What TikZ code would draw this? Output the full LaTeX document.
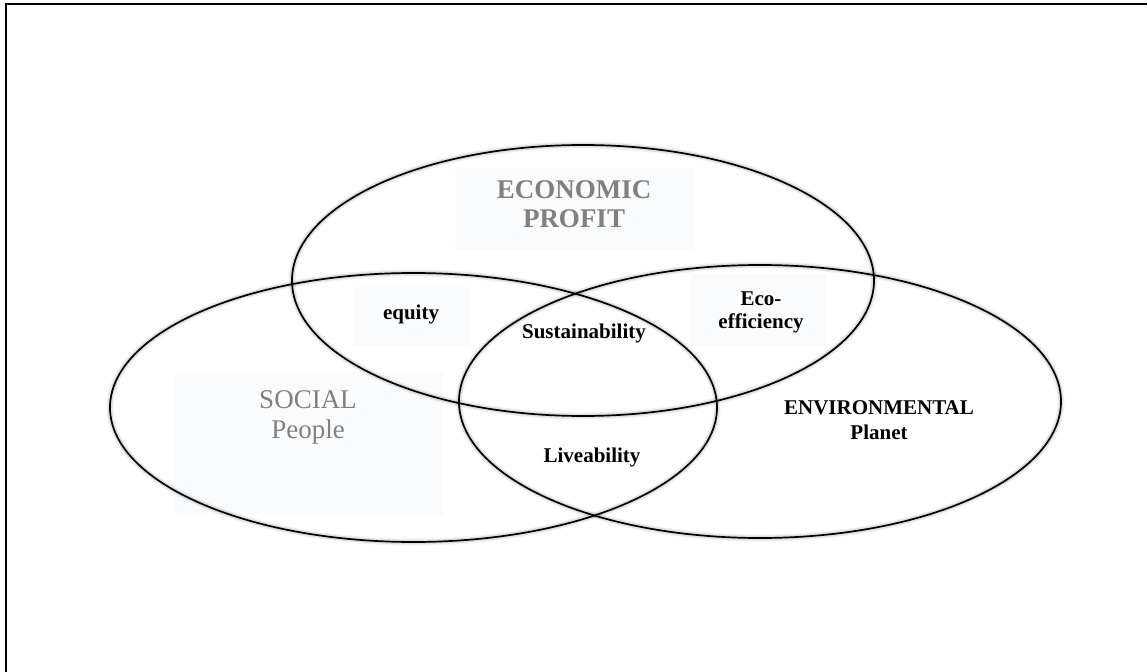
\documentclass[tikz,border=0pt]{standalone}
\usepackage{fontspec}
\setmainfont{Liberation Serif}
\definecolor{lblgray}{HTML}{808080}
\definecolor{boxfill}{HTML}{F8F9FB}
\begin{document}
\begin{tikzpicture}[x=1bp,y=-1bp,
  ring/.style={draw=black, line width=1.7bp},
  glowa/.style={draw=black, line width=7bp, opacity=0.05},
  glowb/.style={draw=black, line width=4.5bp, opacity=0.08},
  faintbox/.style={fill=boxfill, draw=none, opacity=0.6},
  biglbl/.style={text=lblgray, inner sep=0pt, align=center, font=\fontsize{27bp}{29.5bp}\selectfont},
  smalllbl/.style={text=black, inner sep=0pt, align=center, font=\bfseries\fontsize{21bp}{23.5bp}\selectfont}]
\useasboundingbox (0,0) rectangle (1147,672);
\fill[white] (0,0) rectangle (1147,672);
% frame (top and left edges only)
\draw[line width=2bp] (6,672) -- (6,4.5) -- (1147,4.5);
% faint text boxes
\fill[faintbox] (456,168) rectangle (693,250);
\fill[faintbox] (175,373) rectangle (443,515);
\fill[faintbox] (353,287) rectangle (469,346);
\fill[faintbox] (691,274) rectangle (827,346);
% ellipse glow
\foreach \c/\rx/\ry in {{(583,280.5)}/291/135.5, {(413.5,407.5)}/303.5/134.5, {(760,401.5)}/301/136.5}{
  \draw[glowa] \c ellipse [x radius=\rx bp, y radius=\ry bp];
  \draw[glowb] \c ellipse [x radius=\rx bp, y radius=\ry bp];
}
% ellipses
\draw[ring] (583,280.5) ellipse [x radius=291bp, y radius=135.5bp];
\draw[ring] (413.5,407.5) ellipse [x radius=303.5bp, y radius=134.5bp];
\draw[ring] (760,401.5) ellipse [x radius=301bp, y radius=136.5bp];
% labels
\node[biglbl, font=\bfseries\fontsize{27bp}{29.5bp}\selectfont] (econ) at (574,204) {ECONOMIC\\PROFIT};
\node[biglbl, font=\fontsize{27bp}{30bp}\selectfont] (soc) at (308,417) {SOCIAL\\People};
\node[smalllbl, anchor=base] (equity) at (411,319) {equity};
\node[smalllbl, anchor=base] (sust) at (584,338) {Sustainability};
\node[smalllbl, anchor=base] (live) at (592,462) {Liveability};
\node[smalllbl, font=\bfseries\fontsize{21bp}{23bp}\selectfont] (eco) at (761,312) {Eco-\\efficiency};
\node[smalllbl, font=\bfseries\fontsize{21bp}{25bp}\selectfont] (env) at (879,420.5) {ENVIRONMENTAL\\Planet};
\end{tikzpicture}
\end{document}
